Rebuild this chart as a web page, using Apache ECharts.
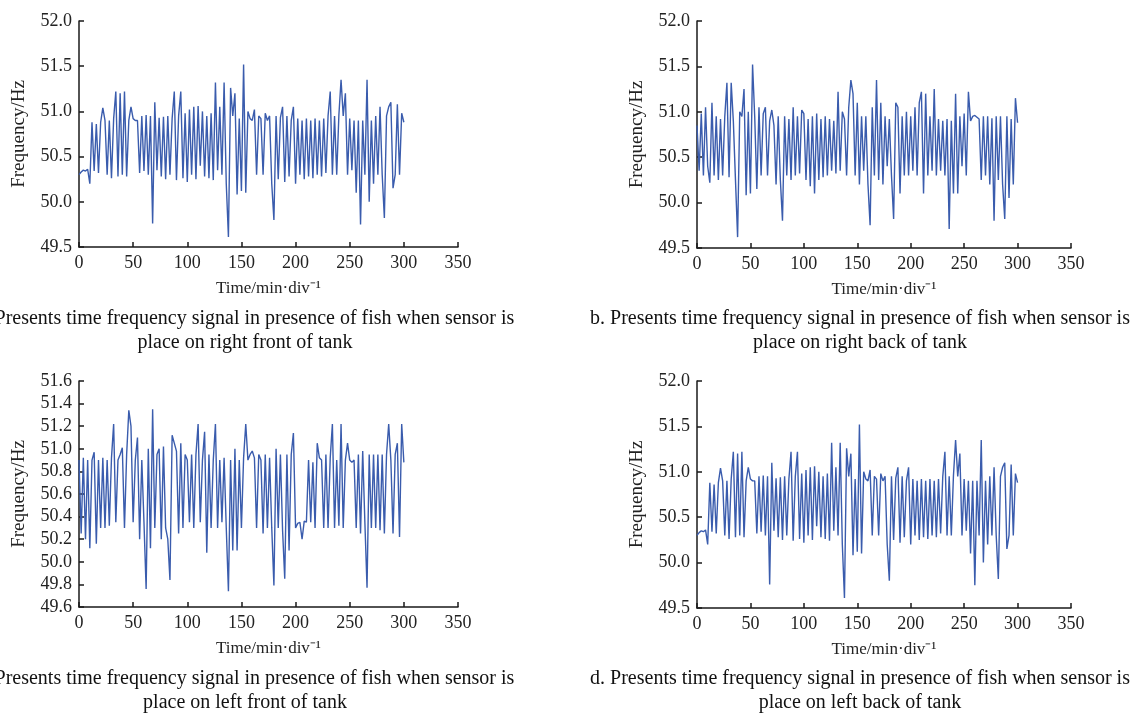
<!DOCTYPE html>
<html>
<head>
<meta charset="utf-8">
<title>Frequency signal</title>
<script src="https://cdn.jsdelivr.net/npm/echarts@6/dist/echarts.min.js"></script>
<style>
  html, body { margin: 0; padding: 0; background: #ffffff; }
  #chart { width: 1134px; height: 718px; }
</style>
</head>
<body>
<div id="chart"></div>
<script>
// sample time step (min) - one value every 2 min, 0..300
var timeStep = 2;

// a. sensor on right front of tank (d. left back shows the same trace)
var freqRightFront = [
  50.30, 50.33, 50.35, 50.34, 50.36, 50.20, 50.88, 50.34, 50.86, 50.32,
  50.88, 51.04, 50.90, 50.30, 50.90, 50.26, 50.92, 51.22, 50.28, 51.20,
  50.30, 51.22, 50.28, 50.90, 51.05, 50.92, 50.90, 50.90, 50.32, 50.95,
  50.34, 50.96, 50.30, 50.95, 49.76, 51.10, 50.35, 50.93, 50.28, 50.94,
  50.25, 50.95, 50.30, 50.92, 51.22, 50.24, 50.95, 51.22, 50.26, 50.98,
  50.22, 51.02, 50.30, 51.05, 50.25, 51.06, 50.40, 51.00, 50.28, 50.95,
  50.26, 50.98, 50.24, 51.32, 50.35, 51.05, 50.30, 51.32, 50.20, 49.61,
  51.26, 50.95, 51.20, 50.08, 50.92, 50.12, 51.52, 50.10, 51.00, 50.92,
  50.90, 51.02, 50.30, 50.95, 50.92, 50.30, 50.98, 50.90, 50.95, 50.20,
  49.80, 50.95, 50.25, 50.93, 51.05, 50.22, 50.95, 50.28, 50.90, 51.05,
  50.20, 50.92, 50.30, 50.90, 50.25, 50.92, 50.28, 50.90, 50.26, 50.92,
  50.30, 50.90, 50.28, 50.92, 50.32, 50.95, 51.22, 50.30, 50.95, 50.30,
  50.96, 51.35, 50.95, 51.20, 50.30, 50.92, 50.35, 50.90, 50.10, 50.90,
  49.75, 50.90, 50.30, 51.35, 50.00, 50.90, 50.20, 50.95, 50.30, 51.05,
  50.30, 49.82, 50.95, 51.05, 51.10, 50.15, 50.30, 51.08, 50.30, 50.98,
  50.88
];

// b. sensor on right back of tank
var freqRightBack = [
  50.85, 50.35, 50.98, 50.30, 51.05, 50.40, 50.22, 51.10, 50.30, 50.95,
  50.25, 50.92, 50.30, 50.95, 51.32, 50.28, 51.32, 50.90, 50.25, 49.62,
  51.00, 50.95, 51.25, 50.08, 51.00, 50.10, 51.52, 50.95, 50.15, 51.05,
  50.30, 50.98, 51.05, 50.30, 50.90, 51.02, 50.85, 50.20, 50.95, 50.25,
  49.80, 50.95, 50.30, 50.92, 50.25, 51.05, 50.30, 50.95, 50.32, 51.02,
  50.98, 50.25, 50.92, 50.18, 50.95, 50.10, 50.98, 50.25, 50.92, 50.28,
  50.95, 50.30, 50.92, 50.35, 50.90, 50.32, 51.22, 50.35, 51.00, 50.92,
  50.30, 51.05, 51.35, 51.20, 50.30, 51.10, 50.20, 50.95, 50.35, 50.95,
  50.20, 49.75, 51.05, 50.30, 51.35, 50.25, 51.10, 50.20, 50.95, 50.40,
  50.92, 50.30, 49.82, 51.10, 51.05, 50.10, 50.95, 50.30, 51.00, 50.30,
  50.95, 50.35, 51.05, 50.30, 51.10, 51.22, 50.10, 51.20, 50.30, 50.95,
  50.35, 51.25, 50.30, 50.92, 50.35, 50.90, 50.30, 50.92, 49.71, 50.90,
  50.10, 51.20, 50.10, 50.95, 50.40, 50.98, 50.30, 51.22, 50.90, 50.95,
  50.96, 50.94, 50.92, 50.25, 50.95, 50.30, 50.95, 50.20, 50.93, 49.80,
  50.95, 50.25, 50.95, 50.20, 49.82, 50.95, 50.05, 50.92, 50.20, 51.15,
  50.88
];

// c. sensor on left front of tank
var freqLeftFront = [
  50.90, 50.25, 50.92, 50.20, 50.90, 50.12, 50.90, 50.97, 50.16, 50.90,
  50.30, 50.92, 50.30, 50.90, 50.32, 50.92, 51.22, 50.35, 50.90, 50.95,
  51.01, 50.30, 50.95, 51.34, 51.20, 50.35, 50.90, 51.10, 50.20, 50.90,
  50.35, 49.76, 51.00, 50.12, 51.35, 50.30, 50.95, 51.00, 50.20, 51.02,
  50.30, 50.20, 49.84, 51.12, 51.05, 50.98, 50.25, 51.05, 50.30, 50.95,
  50.90, 50.35, 50.95, 50.30, 50.95, 51.22, 50.35, 50.90, 51.15, 50.08,
  50.95, 50.30, 50.90, 51.22, 50.30, 50.90, 50.35, 50.92, 50.30, 49.74,
  50.90, 50.10, 51.00, 50.10, 50.90, 50.30, 50.92, 51.22, 50.90, 50.95,
  50.98, 50.92, 50.30, 50.95, 50.90, 50.25, 50.95, 50.30, 50.92, 50.30,
  49.79, 51.00, 50.30, 50.95, 50.28, 49.85, 50.95, 50.10, 50.95, 51.14,
  50.30, 50.34, 50.35, 50.20, 50.36, 50.35, 50.90, 50.35, 50.88, 50.30,
  51.05, 50.92, 50.90, 50.30, 50.95, 50.30, 50.92, 51.22, 50.30, 50.90,
  50.32, 51.22, 50.30, 50.90, 51.05, 50.90, 50.88, 50.90, 50.30, 50.95,
  50.25, 50.98, 50.35, 49.77, 50.95, 50.30, 50.95, 50.30, 50.95, 50.28,
  50.95, 50.25, 50.95, 51.22, 50.90, 50.25, 50.95, 51.05, 50.22, 51.22,
  50.88
];

// d. sensor on left back of tank
var freqLeftBack = freqRightFront;

var xTicks = [0, 350, 50];          // min, max, interval
var yTicksWide = [49.5, 52.0, 0.5];
var yTicksNarrow = [49.6, 51.6, 0.2];

var captions = [
  ['a. Presents time frequency signal in presence of fish when sensor is', 'place on right front of tank'],
  ['b. Presents time frequency signal in presence of fish when sensor is', 'place on right back of tank'],
  ['c. Presents time frequency signal in presence of fish when sensor is', 'place on left front of tank'],
  ['d. Presents time frequency signal in presence of fish when sensor is', 'place on left back of tank']
];

function toPoints(arr) {
  return arr.map(function (v, i) { return [i * timeStep, v]; });
}

var font = '"Liberation Serif", "Times New Roman", serif';
var axisColor = '#1a1a1a';
var lineColor = '#3a5cad';

// panel boxes (pixels)
var grids = [
  { left: 79, top: 21, width: 379, height: 226 },
  { left: 697, top: 21, width: 374, height: 227 },
  { left: 79, top: 381, width: 379, height: 226 },
  { left: 697, top: 381, width: 374, height: 227 }
];
var ySettings = [yTicksWide, yTicksWide, yTicksNarrow, yTicksWide];
var seriesData = [freqRightFront, freqRightBack, freqLeftFront, freqLeftBack];
var captionX = [245, 860, 245, 860];
var captionY = [331, 331, 691, 691];

var option = {
  animation: false,
  backgroundColor: '#ffffff',
  grid: [],
  xAxis: [],
  yAxis: [],
  series: [],
  graphic: []
};

for (var i = 0; i < 4; i++) {
  option.grid.push({
    left: grids[i].left, top: grids[i].top,
    width: grids[i].width, height: grids[i].height,
    containLabel: false
  });
  option.xAxis.push({
    type: 'value',
    gridIndex: i,
    min: xTicks[0], max: xTicks[1], interval: xTicks[2],
    name: 'Time/min·div⁻¹',
    nameLocation: 'middle',
    nameGap: 33,
    nameTextStyle: { fontFamily: font, fontSize: 17, color: '#222' },
    axisLine: { show: true, onZero: false, lineStyle: { color: axisColor, width: 1.5 } },
    axisTick: { show: true, inside: true, length: 5, lineStyle: { color: axisColor, width: 1.5 } },
    axisLabel: { fontFamily: font, fontSize: 18, color: '#222', margin: 7 },
    splitLine: { show: false }
  });
  option.yAxis.push({
    type: 'value',
    gridIndex: i,
    min: ySettings[i][0], max: ySettings[i][1], interval: ySettings[i][2],
    name: 'Frequency/Hz',
    nameLocation: 'middle',
    nameGap: 50,
    nameTextStyle: { fontFamily: font, fontSize: 19, color: '#222' },
    axisLine: { show: true, onZero: false, lineStyle: { color: axisColor, width: 1.5 } },
    axisTick: { show: true, inside: true, length: 5, lineStyle: { color: axisColor, width: 1.5 } },
    axisLabel: {
      fontFamily: font, fontSize: 18, color: '#222', margin: 7,
      formatter: function (v) { return v.toFixed(1); }
    },
    splitLine: { show: false }
  });
  option.series.push({
    type: 'line',
    xAxisIndex: i,
    yAxisIndex: i,
    data: toPoints(seriesData[i]),
    showSymbol: false,
    lineStyle: { color: lineColor, width: 1.4 }
  });
  // caption under each panel (two lines, centred on captionX)
  option.graphic.push({
    type: 'text',
    x: captionX[i],
    y: captionY[i],
    style: {
      text: captions[i][0] + '\n' + captions[i][1],
      align: 'center',
      verticalAlign: 'middle',
      font: '20px ' + font,
      fill: '#111',
      lineHeight: 24
    }
  });
}

var chart = echarts.init(document.getElementById('chart'));
chart.setOption(option);
</script>
</body>
</html>
